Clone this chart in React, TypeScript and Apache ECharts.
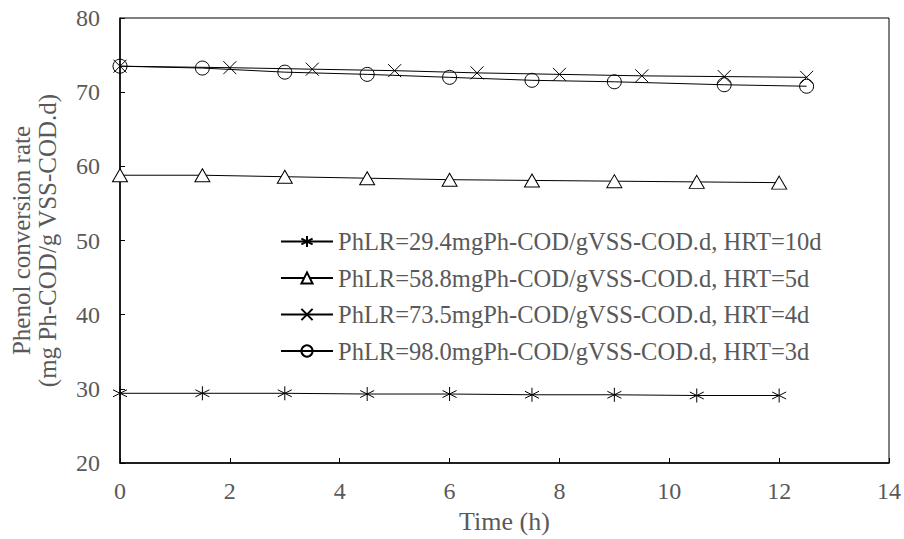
import React, { useEffect, useRef } from "react";
import * as echarts from "echarts";

const timesA = [0, 1.5, 3, 4.5, 6, 7.5, 9, 10.5, 12];
const valuesA = [29.4, 29.4, 29.4, 29.3, 29.3, 29.2, 29.2, 29.1, 29.1];
const timesB = [0, 1.5, 3, 4.5, 6, 7.5, 9, 10.5, 12];
const valuesB = [58.8, 58.8, 58.6, 58.4, 58.2, 58.1, 58.0, 57.9, 57.8];
const timesC = [0, 2, 3.5, 5, 6.5, 8, 9.5, 11, 12.5];
const valuesC = [73.5, 73.3, 73.1, 72.9, 72.6, 72.4, 72.2, 72.1, 72.0];
const timesD = [0, 1.5, 3, 4.5, 6, 7.5, 9, 11, 12.5];
const valuesD = [73.5, 73.25, 72.7, 72.4, 72.0, 71.6, 71.4, 71.0, 70.8];
const seriesNames = [
  "PhLR=29.4mgPh-COD/gVSS-COD.d, HRT=10d",
  "PhLR=58.8mgPh-COD/gVSS-COD.d, HRT=5d",
  "PhLR=73.5mgPh-COD/gVSS-COD.d, HRT=4d",
  "PhLR=98.0mgPh-COD/gVSS-COD.d, HRT=3d",
];

const FONT = "'Liberation Serif', 'Times New Roman', serif";
const GRAY = "#595959";

const pair = (xs: number[], ys: number[]) => xs.map((x, i) => [x, ys[i]]);

export default function App() {
  const ref = useRef<HTMLDivElement>(null);
  useEffect(() => {
    if (!ref.current) return;
    const chart = echarts.init(ref.current, undefined, { renderer: "svg" });
    const lineStyle = { color: "#000", width: 1 };
    const mk = (
      name: string,
      data: number[][],
      symbol: string,
      size: number | number[],
      fill: string
    ) => ({
      name,
      type: "line",
      data,
      symbol,
      symbolSize: size,
      showAllSymbol: true,
      lineStyle,
      itemStyle: { color: fill, borderColor: "#000", borderWidth: 1 },
      emphasis: { disabled: true },
    });
    chart.setOption({
      animation: false,
      backgroundColor: "#fff",
      grid: {
        left: 120,
        right: 14,
        top: 18,
        bottom: 74,
        show: true,
        borderColor: "#000",
        borderWidth: 1,
      },
      legend: {
        left: 280,
        top: 229,
        padding: 0,
        orient: "vertical",
        itemWidth: 52,
        itemHeight: 14,
        itemGap: 11.5,
        textStyle: { fontFamily: FONT, fontSize: 24.5, color: GRAY },
        data: seriesNames,
      },
      xAxis: {
        type: "value",
        min: 0,
        max: 14,
        interval: 2,
        name: "Time (h)",
        nameLocation: "middle",
        nameGap: 45,
        nameTextStyle: { fontFamily: FONT, fontSize: 26, color: GRAY },
        axisLine: { show: true, lineStyle: { color: "#000", width: 1.5 } },
        axisTick: { show: true, inside: true, length: 5, lineStyle: { color: "#000" } },
        axisLabel: { fontFamily: FONT, fontSize: 24, color: GRAY, margin: 16 },
        splitLine: { show: false },
      },
      yAxis: {
        type: "value",
        min: 20,
        max: 80,
        interval: 10,
        name: "Phenol conversion rate\n(mg Ph-COD/g VSS-COD.d)",
        nameLocation: "middle",
        nameGap: 60,
        nameTextStyle: { fontFamily: FONT, fontSize: 25, color: GRAY, lineHeight: 26 },
        axisLine: { show: true, lineStyle: { color: "#000", width: 1.5 } },
        axisTick: { show: true, inside: true, length: 5, lineStyle: { color: "#000" } },
        axisLabel: { fontFamily: FONT, fontSize: 24, color: GRAY, margin: 20 },
        splitLine: { show: false },
      },
      series: [
        mk(seriesNames[0], pair(timesA, valuesA), "path://M5 0L5 10M0.7 2.5L9.3 7.5M9.3 2.5L0.7 7.5", 14, "rgba(0,0,0,0)"),
        mk(seriesNames[1], pair(timesB, valuesB), "triangle", [15, 13], "#fff"),
        mk(seriesNames[2], pair(timesC, valuesC), "path://M0 0L10 10M10 0L0 10", 13, "rgba(0,0,0,0)"),
        mk(seriesNames[3], pair(timesD, valuesD), "circle", 14, "rgba(0,0,0,0)"),
      ],
    });
    return () => chart.dispose();
  }, []);
  return (
    <div
      ref={ref}
      style={{ position: "fixed", left: 0, top: 0, width: 904, height: 539 }}
    />
  );
}
